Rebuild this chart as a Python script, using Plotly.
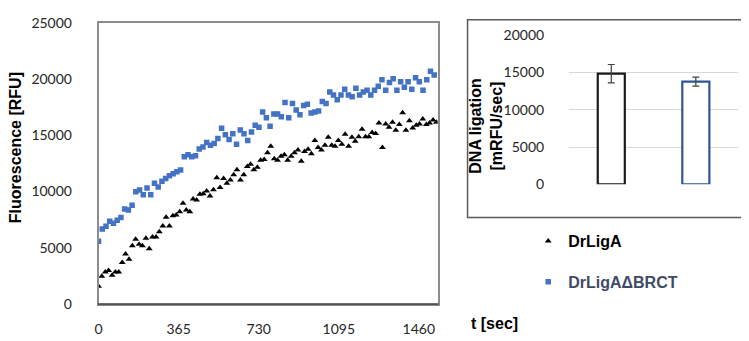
import plotly.graph_objects as go

# ---------------- data ----------------
t_blue = [0, 17, 34, 51, 68, 85, 102, 119, 136, 153, 170, 187, 204, 221, 238, 255, 272, 289, 306, 323,
          340, 357, 374, 391, 408, 425, 442, 459, 476, 493, 510, 527, 544, 561, 578, 595, 612, 629, 646, 663,
          680, 697, 714, 731, 748, 765, 782, 799, 816, 833, 850, 867, 884, 901, 918, 935, 952, 969, 986, 1003,
          1020, 1037, 1054, 1071, 1088, 1105, 1122, 1139, 1156, 1173, 1190, 1207, 1224, 1241, 1258, 1275,
          1292, 1309, 1326, 1343, 1360, 1377, 1394, 1411, 1428, 1445, 1462, 1479, 1496, 1513, 1530]
rfu_blue = [5574, 6670, 6900, 7350, 7180, 7430, 7690, 8450, 8360, 8780, 9970, 10130, 9710, 10300, 9710,
            10730, 10390, 10900, 11150, 11400, 11570, 11740, 11900,
            13090, 13260, 13090, 13180, 13770, 13940, 14360, 14100, 14270, 14700, 15620, 15030, 14610, 15120,
            14190, 15460, 15120, 14530, 15290, 15880, 15710, 17060, 16550, 15790, 16890,
            16890, 16640, 17910, 16550, 17820, 17230, 16810, 17650, 17740, 16980, 17060, 17150, 17990, 17820,
            18830, 18580, 18160, 18580, 19090, 18580, 18410, 19170,
            18580, 18830, 19000, 18580, 19000, 19340, 19930, 19000, 19680, 20020, 19000, 19760, 19260, 19760,
            19090, 20100, 19760, 19000, 19930, 20690, 20350]

t_black = [0, 15, 31, 46, 62, 77, 92, 108, 123, 139, 154, 169, 185, 200, 216, 231, 246, 262, 277, 293,
           308, 323, 339, 354, 370, 385, 400, 416, 431, 447, 462, 477, 493, 508, 524, 539, 554, 570, 585, 601,
           616, 631, 647, 662, 678, 693, 708, 724, 739, 755, 770, 785, 801, 816, 832, 847, 862, 878, 893, 909,
           924, 939, 955, 970, 986, 1001, 1016, 1032, 1047, 1063, 1078, 1093, 1109, 1124, 1140, 1155, 1170,
           1186, 1201, 1217, 1232, 1247, 1263, 1278, 1294, 1309, 1324, 1340, 1355, 1371, 1386, 1401, 1417,
           1432, 1448, 1463, 1478, 1494, 1509, 1525, 1540]
rfu_black = [1580, 2470, 2850, 2980, 2560, 2850, 2850, 3690, 4450, 3970, 5180, 5740, 5300, 5180, 5850,
             4900, 5940, 5940, 6420, 6930, 7710, 6930, 7830, 7910, 8190, 8950,
             8340, 8190, 9320, 9230, 9740, 9800, 10030, 9600, 10160, 11210, 10360, 11150, 10730, 11010,
             11490, 11930, 11010, 11490, 12220, 12420, 11930, 12140, 12780,
             12840, 13450, 14020, 12900, 12780, 13120, 13260, 12780, 13120, 13450, 13680, 12690, 13540,
             13740, 13350, 14530, 13910, 13680, 14100, 14810, 14100, 14020, 14530, 14190, 15090, 14020,
             14810, 14470, 14870, 15520, 14870, 14870, 15230, 15150, 16080, 13910, 15990, 15710, 16160,
             15430, 15940, 17000, 15430, 16280, 15650, 15880, 15990, 16440, 15940, 16080, 16360, 16160]

x_ticks = [0, 365, 730, 1095, 1460]

bar_names = ["DrLigA", "DrLigA\u0394BRCT"]
bar_rates = [14850, 13780]
bar_err = [1230, 600]

# ---------------- figure ----------------
W, H = 749, 341
def px(x):
    return x / W
def py(y):
    return (H - y) / H

TICKFONT = dict(family="Lato", size=14, color="#262626")
BOLD = "Liberation Sans"

fig = go.Figure()

fig.add_trace(go.Scatter(
    x=t_black, y=rfu_black, mode="markers", name="<b>DrLigA</b>",
    legendgroup="a",
    marker=dict(symbol="triangle-up", size=6, color="#000000"),
    xaxis="x", yaxis="y"))
fig.add_trace(go.Scatter(
    x=t_blue, y=rfu_blue, mode="markers",
    name="<b><span style='color:#3f4a66'>DrLigA\u0394BRCT</span></b>",
    legendgroup="b",
    marker=dict(symbol="square", size=5.5, color="#4472C4"),
    xaxis="x", yaxis="y"))

fig.add_trace(go.Bar(
    x=bar_names, y=bar_rates, width=0.32,
    marker=dict(color="white", line=dict(color=["#1a1a1a", "#2F5597"], width=2.2)),
    error_y=dict(type="data", array=bar_err, visible=True, color="#404040", thickness=1.2, width=3.5),
    showlegend=False, xaxis="x2", yaxis="y2"))

fig.update_layout(
    width=W, height=H,
    margin=dict(l=0, r=0, t=0, b=0),
    paper_bgcolor="white", plot_bgcolor="white",
    showlegend=True,
    legend=dict(x=px(519), y=py(218), xanchor="left", yanchor="top",
                font=dict(family=BOLD, size=16, color="#000000"),
                tracegroupgap=17, bgcolor="rgba(0,0,0,0)",
                itemwidth=30),
    xaxis=dict(domain=[px(87), px(428)], range=[0, 1546], tickvals=x_ticks,
               showgrid=False, zeroline=False, showline=True, linecolor="#8c8c8c",
               linewidth=1.5, mirror=True,
               ticks="outside", ticklen=12, tickcolor="rgba(0,0,0,0)",
               tickfont=TICKFONT, anchor="y"),
    yaxis=dict(domain=[py(302), py(6)], range=[0, 25000], dtick=5000, tickformat="d",
               showgrid=False, zeroline=False, showline=True, linecolor="#8c8c8c",
               linewidth=1.5, mirror=True,
               ticks="outside", ticklen=22, tickcolor="rgba(0,0,0,0)",
               tickfont=TICKFONT, anchor="x"),
    xaxis2=dict(domain=[px(560), px(730)], anchor="y2", showticklabels=False,
                showgrid=False, zeroline=False, showline=False, ticks=""),
    yaxis2=dict(domain=[py(176), py(19.3)], anchor="x2", range=[0, 20000], dtick=5000,
                tickformat="d",
                showgrid=True, gridcolor="#d9d9d9", gridwidth=1, zeroline=False, showline=False,
                ticks="outside", ticklen=21, tickcolor="rgba(0,0,0,0)",
                tickfont=TICKFONT),
    shapes=[
        dict(type="line", xref="paper", yref="paper", x0=px(86.3), x1=px(428.7),
             y0=py(302), y1=py(302), line=dict(color="#404040", width=1.5)),
        dict(type="rect", xref="paper", yref="paper", x0=px(458), x1=px(747),
             y0=py(211), y1=py(3), line=dict(color="#595959", width=1.5)),
    ],
    annotations=[
        dict(text="<b>Fluorescence [RFU]</b>", textangle=-90, xref="paper", yref="paper",
             x=px(3), y=py(137), showarrow=False, xanchor="center", yanchor="middle",
             font=dict(family=BOLD, size=16, color="#000000")),
        dict(text="<b>t [sec]</b>", xref="paper", yref="paper",
             x=px(485), y=py(323), showarrow=False, xanchor="center", yanchor="middle",
             font=dict(family=BOLD, size=16, color="#000000")),
        dict(text="<b>DNA ligation<br>[mRFU/sec]</b>", textangle=-90, xref="paper", yref="paper",
             x=px(477), y=py(115), showarrow=False, xanchor="center", yanchor="middle",
             font=dict(family=BOLD, size=16, color="#000000")),
    ],
)

fig.write_html("out.html")
